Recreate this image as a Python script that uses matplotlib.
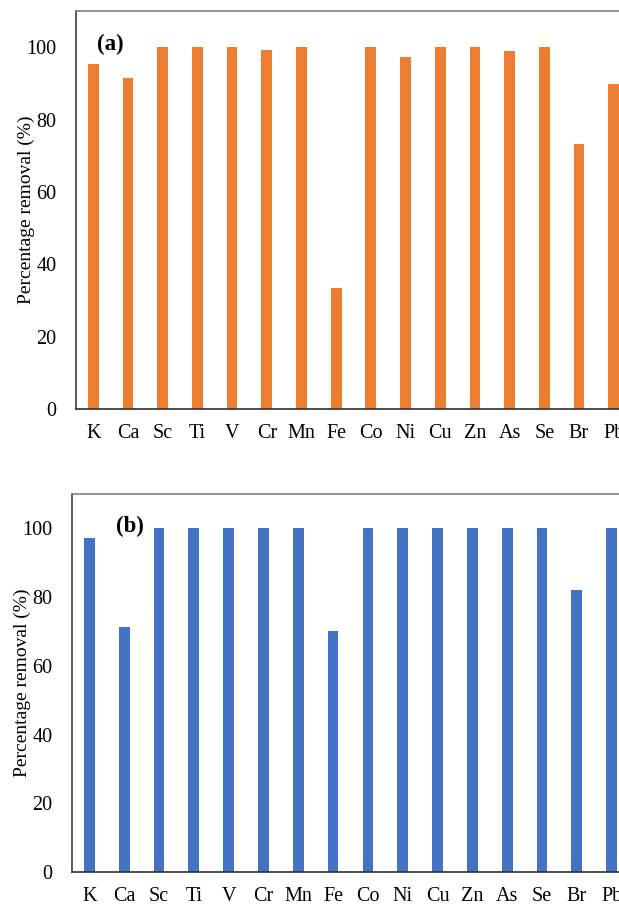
import numpy as np
import matplotlib
matplotlib.use("Agg")
import matplotlib.pyplot as plt

plt.rcParams['font.family'] = "serif"
plt.rcParams['font.serif'] = ["Liberation Serif", "DejaVu Serif"]

# elements on the x axis
elements = ["K", "Ca", "Sc", "Ti", "V", "Cr", "Mn", "Fe",
            "Co", "Ni", "Cu", "Zn", "As", "Se", "Br", "Pb"]

# percentage removal, panel (a)
removal_a = [95.4, 91.4, 100, 100, 100, 99.3, 100, 33.4,
             100, 97.3, 100, 100, 99.0, 100, 73.3, 89.8]
# percentage removal, panel (b)
removal_b = [97.1, 71.2, 100, 100, 100, 100, 100, 70.1,
             100, 100, 100, 100, 100, 100, 82.0, 100]

W, H = 619, 908
fig = plt.figure(figsize=(W/100, H/100), dpi=100)

# axes run past the right edge of the picture (cropped like the original)
ax_a = fig.add_axes([76/W, 1 - 409/H, 555/W, 398/H])
ax_b = fig.add_axes([72/W, 1 - 872/H, 557/W, 378/H])

panels = [(ax_a, removal_a, "#ED7D31", "(a)", 97),
          (ax_b, removal_b, "#4472C4", "(b)", 116)]

x = np.arange(len(elements))
for ax, vals, col, tag, tag_x in panels:
    ax.bar(x, vals, width=0.31, color=col, edgecolor="none")
    ax.set_xlim(-0.5, len(elements) - 0.5)
    ax.set_ylim(0, 110)
    ax.set_yticks([0, 20, 40, 60, 80, 100])
    ax.set_xticks(x)
    ax.set_xticklabels(elements)
    ax.tick_params(axis='both', length=0, labelsize=14.5)
    ax.tick_params(axis='x', pad=11)
    ax.tick_params(axis='y', pad=14)
    ax.set_ylabel("Percentage removal (%)", fontsize=14, labelpad=-6)
    ax.spines['right'].set_visible(False)
    ax.spines['top'].set_color("#808080")
    ax.spines['left'].set_color("#404040")
    ax.spines['bottom'].set_color("#303030")
    for s in ax.spines.values():
        s.set_linewidth(1.2)
    # panel tag in figure pixel position
    pos = ax.get_position()
    ax.text((tag_x - pos.x0*W) / (pos.width*W), 0.915, tag,
            transform=ax.transAxes, fontsize=16.5, fontweight='bold',
            ha='left', va='center')

plt.savefig('out.png', dpi=100)
